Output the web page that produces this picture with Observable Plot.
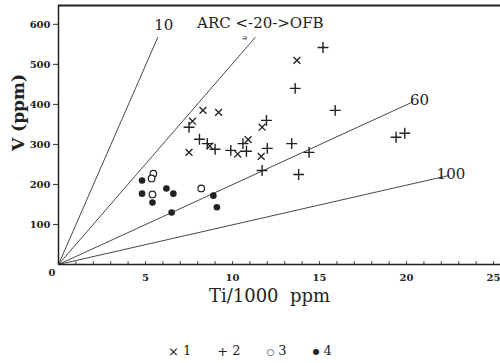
<!DOCTYPE html>
<html>
<head>
<meta charset="utf-8">
<script src="https://cdn.jsdelivr.net/npm/d3@7"></script>
<script src="https://cdn.jsdelivr.net/npm/@observablehq/plot@0.6"></script>
<style>
  body { margin: 0; background: #fff; width: 500px; height: 363px; overflow: hidden; }
  #legend { position: absolute; top: 343px; left: 0; width: 500px; text-align: center;
    font-family: "DejaVu Serif", serif; font-size: 13px; color: #222; }
  #legend .item { display: inline-block; margin: 0 13px; }
  #legend .sym { display: inline-block; margin-right: 4px; vertical-align: middle; }
</style>
</head>
<body>
<div id="chart"></div>
<div id="legend"></div>
<script>
// Series 1 (×)
const s1Ti = [8.3, 9.2, 7.7, 7.5, 8.7, 10.3, 10.9, 11.7, 11.65, 13.7];
const s1V  = [385, 380, 358, 280, 296, 276, 312, 343, 270, 510];
// Series 2 (+)
const s2Ti = [7.5, 8.1, 8.55, 9.0, 9.9, 10.6, 10.8, 11.95, 12.0, 11.7, 13.4, 14.4, 13.8, 15.2, 13.6, 15.9, 19.4, 19.9];
const s2V  = [343, 313, 302, 288, 285, 302, 283, 360, 290, 235, 302, 280, 225, 542, 440, 385, 318, 328];
// Series 3 (open circles)
const s3Ti = [5.45, 5.35, 5.4, 8.2];
const s3V  = [227, 215, 175, 190];
// Series 4 (filled circles)
const s4Ti = [4.8, 4.8, 5.4, 6.2, 6.6, 6.5, 8.9, 9.1];
const s4V  = [210, 177, 155, 190, 177, 130, 172, 143];

// Ti/V reference lines
const lineNames = ["10", "20", "60", "100"];
const lineEndTi = [5.7, 11.3, 20.3, 22.4];
const lineEndV  = [567, 567, 405, 222];

// Line labels
const labelTexts = ["10", "ARC <-20->OFB", "60", "100"];
const labelTi = [6.05, 11.6, 20.75, 22.55];
const labelV  = [598, 603, 410, 225];
const labelAnchor = ["middle", "middle", "start", "start"];
const labelSize = [15, 15, 15, 15];

const xTicks = [5, 10, 15, 20, 25];
const xMinorTicks = d3.range(1, 26);
const yTicks = [100, 200, 300, 400, 500, 600];

const legendSymbols = ["×", "+", "○", "●"];
const legendLabels = ["1", "2", "3", "4"];
const legendSymSize = [13, 13, 9, 8];

const pts = (ti, v) => ti.map((t, i) => ({ti: t, v: v[i]}));
const lineData = lineNames.flatMap((n, i) => [
  {name: n, ti: 0, v: 0},
  {name: n, ti: lineEndTi[i], v: lineEndV[i]}
]);
const labels = labelTexts.map((t, i) => ({t, ti: labelTi[i], v: labelV[i], a: labelAnchor[i], s: labelSize[i]}));

const font = "DejaVu Serif, serif";
const chart = Plot.plot({
  width: 500,
  height: 330,
  marginLeft: 58,
  marginRight: 0,
  marginTop: 5,
  marginBottom: 66,
  style: {fontFamily: font, background: "white", color: "#222"},
  x: {domain: [0, 25.4]},
  y: {domain: [0, 647]},
  marks: [
    Plot.line(lineData, {x: "ti", y: "v", z: "name", stroke: "#333", strokeWidth: 0.9}),
    Plot.ruleX(xMinorTicks, {x: d => d, y1: 0, y2: 7, stroke: "#444", strokeWidth: 1}),
    Plot.axisY({ticks: yTicks, tickSize: 5, tickPadding: 3, fontSize: 10, fontWeight: "bold", label: null, stroke: "#333"}),
    Plot.axisX({ticks: xTicks, tickSize: 0, tickPadding: 9, fontSize: 10, fontWeight: "bold", label: null}),
    Plot.text(["0"], {frameAnchor: "bottom-left", dx: -10, dy: 11, fontSize: 10, fontWeight: "bold"}),
    Plot.text(["V (ppm)"], {frameAnchor: "left", dx: -40, dy: 16, rotate: -90, fontSize: 17, fontWeight: "bold"}),
    Plot.text(["Ti/1000  ppm"], {frameAnchor: "bottom", dy: 37, dx: -10, fontSize: 18}),
    Plot.ruleX([0], {stroke: "#222", strokeWidth: 1.5}),
    Plot.ruleY([0], {stroke: "#222", strokeWidth: 1.5}),
    Plot.ruleY([647], {stroke: "#222", strokeWidth: 2}),
    Plot.text(labels, {x: "ti", y: "v", text: "t", textAnchor: "a", fontSize: "s"}),
    Plot.text(["ə"], {x: () => 10.7, y: () => 568, fontSize: 8}),
    Plot.dot(pts(s1Ti, s1V), {x: "ti", y: "v", symbol: "times", r: 3.2, stroke: "#222", strokeWidth: 1.3}),
    Plot.dot(pts(s2Ti, s2V), {x: "ti", y: "v", symbol: "plus", r: 3.6, stroke: "#222", strokeWidth: 1.4}),
    Plot.dot(pts(s3Ti, s3V), {x: "ti", y: "v", r: 3.3, stroke: "#222", strokeWidth: 1.2, fill: "white"}),
    Plot.dot(pts(s4Ti, s4V), {x: "ti", y: "v", r: 3.3, fill: "#222", stroke: "none"})
  ]
});
document.getElementById("chart").appendChild(chart);
const leg = document.getElementById("legend");
legendSymbols.forEach((sym, i) => {
  const item = document.createElement("span");
  item.className = "item";
  const s = document.createElement("span");
  s.className = "sym";
  s.style.fontSize = legendSymSize[i] + "px";
  s.textContent = sym;
  item.appendChild(s);
  item.appendChild(document.createTextNode(legendLabels[i]));
  leg.appendChild(item);
});
</script>
</body>
</html>
